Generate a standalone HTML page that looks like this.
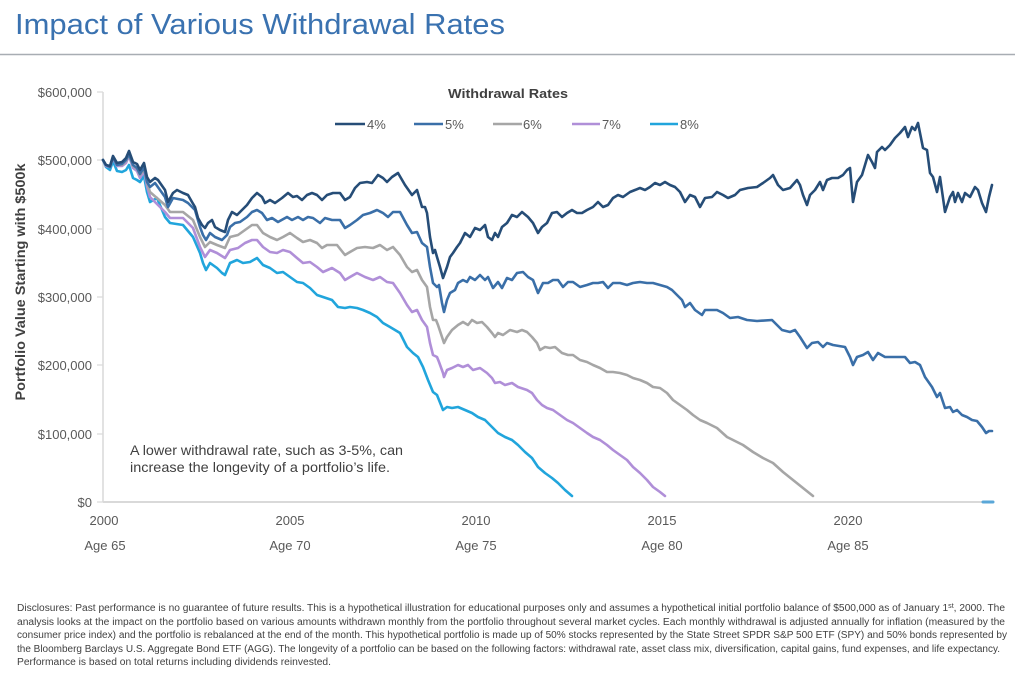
<!DOCTYPE html>
<html><head><meta charset="utf-8"><style>
html,body{margin:0;padding:0;background:#fff;}
svg{display:block;}
</style></head><body>
<svg width="1024" height="679" viewBox="0 0 1024 679" xmlns="http://www.w3.org/2000/svg" font-family="'Liberation Sans', sans-serif">
<rect width="1024" height="679" fill="#fff"/>
<text x="15" y="34" font-size="29" fill="#3a72b0" textLength="490" lengthAdjust="spacingAndGlyphs">Impact of Various Withdrawal Rates</text>
<line x1="0" y1="54.5" x2="1015" y2="54.5" stroke="#a8adb3" stroke-width="1.5"/>

<!-- axes -->
<line x1="103" y1="92" x2="103" y2="502" stroke="#d9d9d9" stroke-width="1.5"/>
<line x1="103" y1="502" x2="993" y2="502" stroke="#d9d9d9" stroke-width="2"/>
<g stroke="#d9d9d9" stroke-width="1.2">
<line x1="97" y1="92" x2="103" y2="92"/><line x1="97" y1="160" x2="103" y2="160"/><line x1="97" y1="229" x2="103" y2="229"/><line x1="97" y1="297" x2="103" y2="297"/><line x1="97" y1="365" x2="103" y2="365"/><line x1="97" y1="434" x2="103" y2="434"/><line x1="97" y1="502" x2="103" y2="502"/>
</g>
<g font-size="13" fill="#595959" text-anchor="end">
<text x="92" y="97">$600,000</text>
<text x="92" y="165">$500,000</text>
<text x="92" y="234">$400,000</text>
<text x="92" y="302">$300,000</text>
<text x="92" y="370">$200,000</text>
<text x="92" y="439">$100,000</text>
<text x="92" y="507">$0</text>
</g>
<g font-size="13" fill="#595959" text-anchor="middle">
<text x="104" y="525">2000</text><text x="290" y="525">2005</text><text x="476" y="525">2010</text><text x="662" y="525">2015</text><text x="848" y="525">2020</text>
<text x="105" y="550">Age 65</text><text x="290" y="550">Age 70</text><text x="476" y="550">Age 75</text><text x="662" y="550">Age 80</text><text x="848" y="550">Age 85</text>
</g>
<text transform="translate(25,282) rotate(-90)" text-anchor="middle" font-size="14" font-weight="bold" fill="#404040" textLength="237" lengthAdjust="spacingAndGlyphs">Portfolio Value Starting with $500k</text>

<!-- legend -->
<text x="508" y="98" text-anchor="middle" font-size="13" font-weight="bold" fill="#404040" textLength="120" lengthAdjust="spacingAndGlyphs">Withdrawal Rates</text>
<g stroke-width="2.5">
<line x1="335" y1="124" x2="365" y2="124" stroke="#264d77"/>
<line x1="414" y1="124" x2="443" y2="124" stroke="#3a6fa8"/>
<line x1="493" y1="124" x2="522" y2="124" stroke="#a6a6a6"/>
<line x1="572" y1="124" x2="600" y2="124" stroke="#b08fd8"/>
<line x1="650" y1="124" x2="678" y2="124" stroke="#21a5dc"/>
</g>
<g font-size="13" fill="#595959">
<text x="367" y="129">4%</text><text x="445" y="129">5%</text><text x="523" y="129">6%</text><text x="602" y="129">7%</text><text x="680" y="129">8%</text>
</g>

<g fill="none" stroke-width="2.6" stroke-linejoin="round" stroke-linecap="round">
<!-- 8% -->
<polyline stroke="#21a5dc" points="103,160 106,167 110,170 113,161 117,171 122,172 126,170 129,165 133,178 137,180 140,182 144,176 147,192 150,202 157,198 165,217 170,223 183,225 193,237 200,253 203,263 206,270 210,263 217,268 222,273 225,275 230,263 237,260 243,263 250,262 257,258 263,265 270,268 277,273 283,272 290,277 297,282 303,283 310,288 317,295 323,297 332,300 338,307 345,308 350,307 357,308 363,310 370,313 377,317 383,323 390,327 400,333 407,347 413,353 418,357 423,367 428,380 433,392 437,395 441,405 443,410 447,407 452,408 458,407 465,410 472,413 478,417 485,420 492,427 498,433 505,437 512,440 518,445 525,452 532,458 538,467 545,473 552,478 558,483 565,490 572,496"/>
<line x1="983" y1="502" x2="993" y2="502" stroke="#5aa7d8" stroke-width="3"/>
<!-- 7% -->
<polyline stroke="#b08fd8" points="103,160 106,166 110,167 113,158 117,166 122,166 126,163 129,156 133,168 137,171 140,178 144,171 147,186 150,197 165,212 170,218 183,218 193,228 200,247 205,257 210,250 217,253 225,258 230,250 238,248 245,243 252,240 257,240 263,247 270,252 277,253 283,250 290,252 297,258 303,263 310,262 317,267 323,272 332,268 340,273 345,280 350,277 357,273 365,277 373,280 380,277 387,282 393,283 400,293 407,305 412,312 417,310 422,320 427,327 430,343 433,355 437,357 439,362 443,373 444,377 447,370 452,368 458,365 463,367 468,365 473,370 480,368 487,373 492,378 495,383 500,382 505,385 512,383 518,387 527,390 532,393 537,400 542,405 547,408 553,410 560,415 567,420 573,423 580,428 587,433 593,437 600,440 607,445 613,450 620,455 627,460 633,467 640,473 647,480 653,487 660,492 665,496"/>
<!-- 6% -->
<polyline stroke="#a6a6a6" points="103,160 106,165 110,167 113,157 117,165 122,165 126,161 129,155 133,166 137,169 140,175 144,169 147,183 150,192 165,205 170,212 183,212 193,220 200,237 205,247 210,242 217,245 225,248 230,237 238,235 245,230 252,225 257,225 263,233 270,237 277,240 283,237 290,233 297,238 303,242 310,240 317,243 322,248 327,245 337,245 345,255 350,252 357,248 365,247 373,248 380,245 387,250 393,247 400,255 407,267 412,272 417,270 422,280 427,287 430,307 433,320 436,320 438,325 442,337 444,343 447,337 452,330 458,325 463,322 468,325 472,320 477,323 482,322 487,327 492,333 495,337 498,333 503,335 510,330 517,332 522,330 527,332 532,337 537,343 540,350 545,347 550,348 555,347 562,353 568,355 573,355 580,360 587,362 593,365 600,368 607,372 613,372 620,373 627,375 633,378 640,380 647,383 653,387 660,388 667,393 673,400 680,405 687,410 693,415 700,420 707,423 717,428 727,437 733,440 743,445 753,452 763,458 773,463 783,472 793,480 803,488 813,496"/>
<!-- 5% -->
<polyline stroke="#3a6fa8" points="103,160 106,165 110,167 113,157 117,165 122,164 126,160 129,154 133,165 137,168 140,174 144,167 147,182 150,187 155,183 165,197 168,207 173,198 183,200 188,203 195,210 200,227 203,235 206,240 210,233 215,237 222,240 227,235 230,227 235,223 240,222 247,217 252,212 257,210 262,213 267,220 272,218 278,222 287,217 292,220 298,217 303,220 308,217 313,218 320,223 325,218 332,220 340,220 345,228 350,225 357,220 363,215 370,213 377,210 383,213 388,217 393,212 400,212 407,225 412,233 417,232 422,243 427,247 430,267 433,283 437,287 439,285 442,303 444,312 447,300 450,293 455,290 458,283 463,280 467,282 470,277 475,280 480,275 485,280 488,277 493,288 498,282 502,288 507,278 512,280 517,273 523,272 528,277 533,280 538,293 543,283 548,283 553,280 558,280 563,287 568,282 573,282 580,287 587,285 593,283 598,283 603,282 608,288 613,283 620,283 627,285 633,283 640,282 647,283 653,283 660,285 667,287 672,290 677,295 682,300 685,307 690,303 695,310 702,315 705,310 717,310 723,313 730,318 738,317 747,320 757,321 772,320 777,325 782,330 790,332 795,330 800,337 807,348 812,343 818,342 823,347 827,343 833,345 845,347 850,357 853,365 857,357 863,355 868,352 873,360 878,353 885,357 893,357 905,357 910,363 915,362 920,365 925,377 932,387 937,397 940,393 945,408 950,407 953,412 957,410 962,415 967,417 972,420 977,421 982,427 986,433 989,431 992,431"/>
<!-- 4% -->
<polyline stroke="#264d77" points="103,160 106,165 110,166 113,156 117,163 122,162 126,158 129,151 133,162 137,164 140,170 144,163 147,177 150,182 155,178 158,180 165,190 168,202 173,193 177,190 183,193 188,195 192,202 195,207 198,218 202,225 205,228 208,223 212,220 215,227 220,230 225,232 228,220 232,212 237,215 242,210 247,205 252,198 257,193 262,197 265,203 270,200 275,203 282,198 288,193 293,197 297,196 302,200 307,195 312,193 317,195 322,200 327,195 333,193 340,193 345,200 350,197 355,188 360,183 367,182 372,183 378,175 383,178 387,182 392,177 398,173 405,185 412,195 417,190 422,207 425,207 427,213 430,237 433,253 435,250 437,257 440,267 443,278 447,267 450,257 453,253 457,247 460,243 465,233 470,237 475,228 480,230 485,225 488,237 492,240 495,233 498,237 502,227 507,223 512,215 517,217 522,212 528,217 533,223 538,233 542,227 547,223 552,213 557,212 562,217 567,213 572,210 577,213 582,213 587,210 593,207 598,202 603,207 608,205 613,198 618,195 623,197 630,192 635,190 640,188 645,190 650,187 655,183 660,185 665,182 670,185 675,187 680,192 685,202 690,195 695,197 700,207 705,198 712,197 717,192 723,195 728,198 735,195 740,190 748,188 757,187 763,183 770,178 773,175 778,185 783,190 790,188 797,180 800,185 803,195 807,205 810,195 815,190 820,182 823,190 827,180 832,178 838,178 843,175 847,170 850,168 853,202 857,182 862,175 865,165 868,155 872,162 875,168 877,152 882,147 885,150 890,145 895,138 900,133 905,127 908,137 912,127 915,130 918,123 923,148 927,150 930,173 933,177 937,192 940,177 945,212 950,197 953,192 955,202 958,193 962,202 965,193 970,197 975,187 978,190 982,203 986,212 989,197 992,185"/>
</g>

<!-- annotation -->
<g font-size="14" fill="#404040">
<text x="130" y="455" textLength="273" lengthAdjust="spacingAndGlyphs">A lower withdrawal rate, such as 3-5%, can</text>
<text x="130" y="472" textLength="260" lengthAdjust="spacingAndGlyphs">increase the longevity of a portfolio’s life.</text>
</g>

<!-- disclosures -->
<g font-size="10" fill="#404040">
<text x="17" y="611" textLength="988" lengthAdjust="spacingAndGlyphs">Disclosures: Past performance is no guarantee of future results. This is a hypothetical illustration for educational purposes only and assumes a hypothetical initial portfolio balance of $500,000 as of January 1<tspan font-size="7" dy="-3">st</tspan><tspan dy="3">, 2000. The</tspan></text>
<text x="17" y="625" textLength="988" lengthAdjust="spacingAndGlyphs">analysis looks at the impact on the portfolio based on various amounts withdrawn monthly from the portfolio throughout several market cycles. Each monthly withdrawal is adjusted annually for inflation (measured by the</text>
<text x="17" y="638" textLength="990" lengthAdjust="spacingAndGlyphs">consumer price index) and the portfolio is rebalanced at the end of the month. This hypothetical portfolio is made up of 50% stocks represented by the State Street SPDR S&amp;P 500 ETF (SPY) and 50% bonds represented by</text>
<text x="17" y="652" textLength="983" lengthAdjust="spacingAndGlyphs">the Bloomberg Barclays U.S. Aggregate Bond ETF (AGG). The longevity of a portfolio can be based on the following factors: withdrawal rate, asset class mix, diversification, capital gains, fund expenses, and life expectancy.</text>
<text x="17" y="665" textLength="314" lengthAdjust="spacingAndGlyphs">Performance is based on total returns including dividends reinvested.</text>
</g>
</svg>
</body></html>
